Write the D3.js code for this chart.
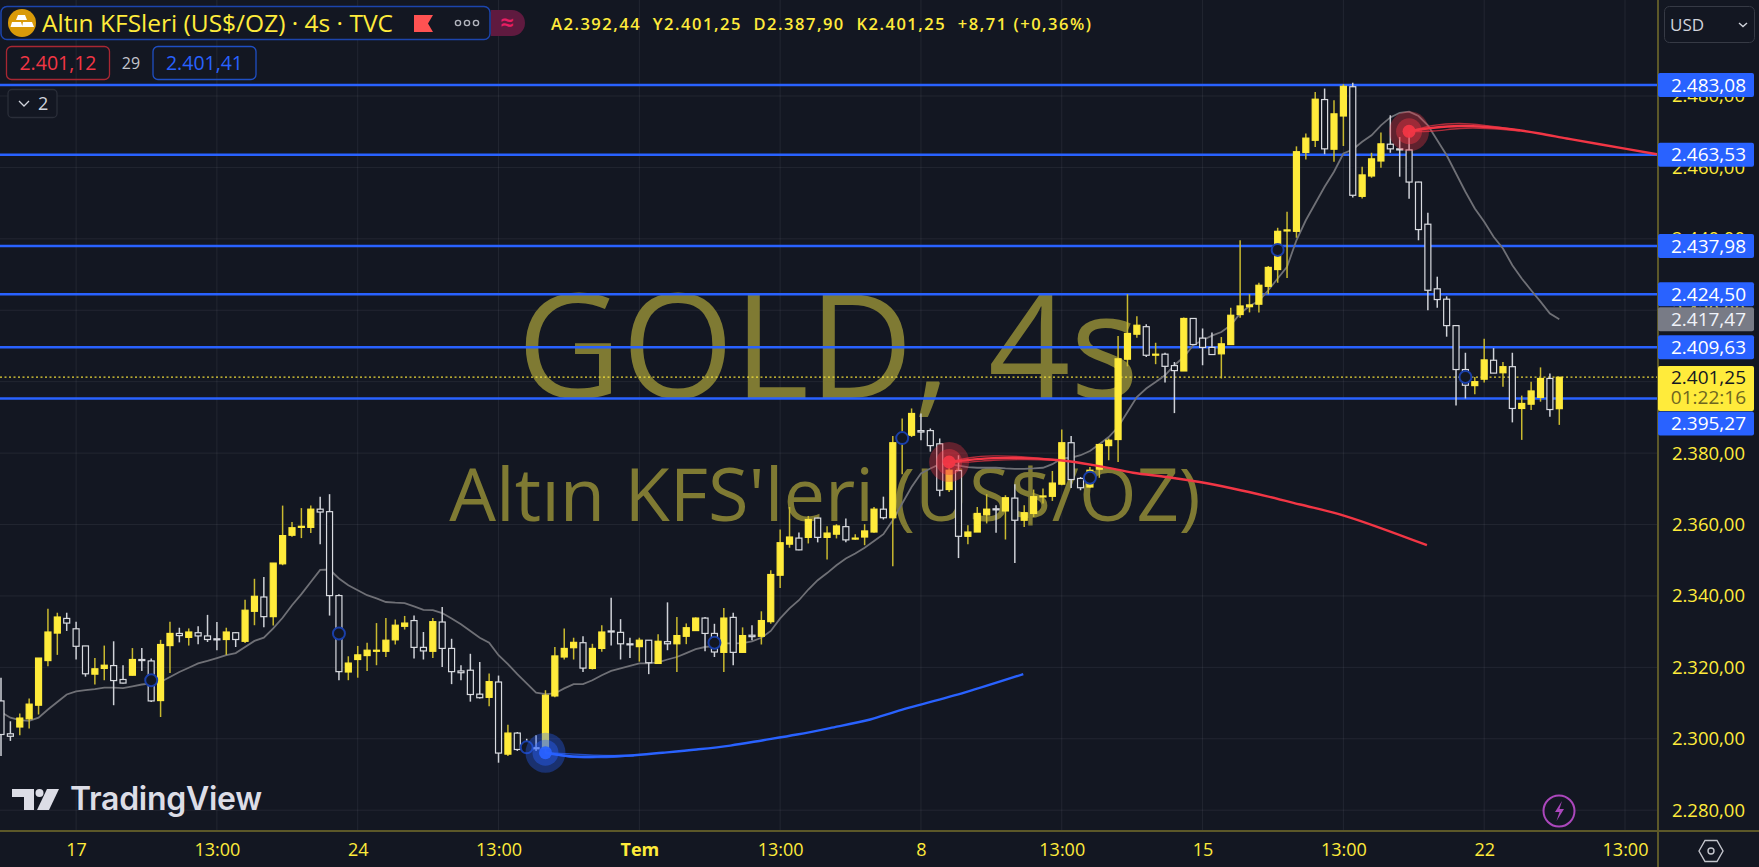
<!DOCTYPE html>
<html lang="tr">
<head>
  <meta charset="UTF-8">
  <title>Altın KFSleri (US$/OZ) · 4s · TVC</title>
  <script src="https://d3js.org/d3.v7.min.js"></script>
  <style>
    html, body { margin: 0; padding: 0; background: #131722; overflow: hidden; }
    svg { display: block; font-family: "Open Sans", sans-serif; }
    .tick line, .domain { display: none; }
  </style>
</head>
<body>
  <div id="chart-area"></div>
  <script>
    // candles, oldest first (4 hour bars)
    const opens = [
      2310.6,2301.4,2303.3,2305.6,2309.4,2321.9,2329.6,2333.7,2330.8,2326.0,
      2318.1,2319.7,2320.5,2316.6,2317.8,2322.2,2321.8,2310.7,2326.1,2329.5,
      2328.4,2329.7,2328.8,2328.0,2327.8,2329.7,2327.3,2335.7,2339.7,2334.2,
      2349.0,2357.0,2359.2,2359.2,2364.3,2363.6,2340.1,2318.7,2322.2,2323.3,
      2324.5,2324.5,2327.7,2331.5,2333.1,2325.6,2324.5,
      2332.7,2325.3,2319.0,2319.2,2312.5,2311.6,2315.9,2295.7,2301.6,2298.7,
      2297.5,2297.3,2312.0,2322.9,2325.5,2326.9,2319.7,2325.3,2330.2,2329.8,
      2326.6,2325.8,2327.6,2321.1,2327.2,2326.6,2328.7,2330.3,2333.8,2329.5,
      2324.2,2334.0,2324.2,2329.0,2328.7,2332.8,2345.8,2354.5,2356.2,2356.4,
      2361.8,2356.4,2357.3,2359.4,2356.0,2356.5,
      2357.9,2364.3,2361.9,2382.9,2385.0,2386.3,2386.3,2382.6,2369.8,2375.1,
      2356.7,2357.9,2362.7,2364.4,2363.8,2367.4,2361.2,2363.1,2367.8,2367.9,
      2371.3,2382.9,2372.9,2370.5,2375.5,2382.1,2383.8,2406.3,2413.3,2415.4,
      2407.5,2407.7,2404.5,2403.0,2417.7,2412.2,2409.6,2407.8,2410.4,
      2418.8,2421.0,2421.7,2426.7,2431.4,2442.2,2442.1,2464.2,2467.6,2479.0,
      2465.1,2474.4,2482.6,2451.9,2457.6,2461.8,2466.5,2465.2,2464.9,2455.9,
      2444.1,2426.0,2423.1,2415.7,2403.4,2398.9,2400.7,2406.0,2402.5,2404.2,
      2392.5,2393.7,2395.6,2400.9,2392.44
    ];
    const highs = [
      2317.1,2304.9,2307.1,2311.3,2322.6,2336.4,2335.3,2335.3,2332.8,2326.0,
      2322.6,2326.1,2327.3,2320.6,2325.4,2325.4,2322.5,2327.7,2332.8,2331.1,
      2330.9,2331.5,2334.7,2332.7,2331.1,2329.9,2338.9,2344.8,2345.3,2349.2,
      2365.3,2360.7,2364.6,2365.3,2367.8,2368.5,2340.5,2323.1,2326.0,2326.9,
      2332.4,2333.8,2333.4,2334.4,2334.5,2329.9,2333.8,
      2336.9,2328.0,2320.6,2323.8,2321.5,2318.3,2317.7,2303.9,2301.9,2300.0,
      2301.0,2313.6,2325.7,2330.9,2328.3,2328.7,2326.6,2331.8,2339.5,2333.5,
      2328.3,2328.3,2327.6,2329.3,2338.2,2334.1,2332.3,2334.0,2334.1,2332.2,
      2336.6,2335.3,2331.2,2331.8,2335.7,2347.2,2358.6,2364.9,2357.8,2362.4,
      2361.9,2359.5,2360.1,2361.7,2357.3,2360.1,
      2364.9,2367.8,2384.8,2389.7,2392.5,2391.1,2386.9,2384.1,2377.3,2379.4,
      2359.8,2364.9,2368.5,2365.4,2368.2,2371.3,2365.4,2369.8,2370.1,2375.0,
      2386.6,2384.8,2373.3,2376.1,2382.7,2384.1,2412.8,2424.5,2418.3,2416.1,
      2410.9,2408.1,2405.5,2418.0,2417.7,2414.9,2413.8,2412.5,2420.7,
      2439.6,2424.5,2427.7,2432.4,2443.1,2447.6,2465.9,2469.5,2481.1,2482.1,
      2478.8,2483.3,2483.7,2460.2,2464.1,2469.8,2474.6,2468.5,2469.9,2456.0,
      2447.3,2429.4,2423.9,2415.9,2408.1,2401.3,2412.0,2409.4,2405.5,2408.1,
      2396.1,2400.0,2404.0,2402.3,2401.25
    ];
    const lows = [
      2295.2,2299.4,2301.0,2302.9,2306.8,2320.3,2323.5,2330.2,2322.2,2317.4,
      2315.2,2316.4,2309.4,2315.5,2317.7,2319.0,2310.3,2306.1,2318.4,2327.0,
      2326.1,2326.5,2327.1,2324.8,2323.5,2325.7,2326.8,2331.8,2331.2,2331.7,
      2348.6,2356.6,2356.2,2357.6,2354.5,2334.5,2316.4,2316.4,2317.1,2319.0,
      2320.6,2322.9,2326.4,2330.6,2322.5,2322.2,2322.6,
      2320.1,2315.3,2316.4,2310.4,2311.3,2309.1,2293.3,2295.2,2296.6,2296.3,
      2296.6,2296.1,2311.6,2322.2,2322.2,2318.7,2319.4,2324.4,2326.1,2322.2,
      2322.6,2321.6,2318.1,2321.0,2324.8,2318.7,2326.5,2330.2,2324.5,2322.9,
      2318.7,2320.6,2324.1,2327.6,2326.4,2332.2,2342.2,2353.5,2352.8,2354.7,
      2355.0,2350.2,2356.1,2355.0,2355.7,2354.2,
      2357.7,2361.4,2348.3,2374.1,2384.5,2383.6,2380.4,2367.9,2369.1,2350.6,
      2354.5,2357.9,2360.3,2357.7,2355.8,2349.2,2359.3,2362.1,2365.9,2366.6,
      2371.0,2370.2,2369.6,2370.3,2373.1,2378.0,2377.5,2404.3,2412.3,2406.9,
      2404.9,2399.8,2391.2,2403.0,2410.4,2404.6,2407.5,2400.9,2410.4,
      2417.9,2419.4,2419.4,2424.5,2427.7,2429.0,2440.3,2462.2,2465.7,2463.7,
      2461.6,2466.0,2451.6,2451.3,2457.1,2459.9,2464.1,2457.4,2451.2,2439.6,
      2420.0,2420.7,2412.6,2393.3,2395.3,2396.5,2399.8,2402.4,2398.6,2388.6,
      2383.7,2392.1,2394.4,2390.2,2387.9
    ];
    const closes = [
      2301.2,2300.7,2305.8,2309.7,2322.6,2329.9,2334.1,2332.4,2325.9,2318.2,
      2319.6,2320.6,2316.3,2315.6,2322.2,2321.9,2310.6,2326.4,2329.5,2328.9,
      2329.9,2328.8,2327.8,2327.7,2329.9,2327.8,2336.0,2339.9,2334.2,2349.2,
      2356.9,2359.1,2359.5,2364.3,2363.5,2340.1,2318.8,2321.2,2323.5,2324.8,
      2324.8,2327.6,2331.8,2332.4,2325.6,2324.6,2332.8,
      2325.3,2318.8,2318.5,2312.4,2311.5,2316.0,2296.0,2301.6,2297.0,2296.8,
      2297.2,2312.2,2323.2,2325.3,2327.0,2319.8,2325.3,2329.9,2329.9,2326.6,
      2326.3,2327.6,2321.3,2327.3,2326.6,2328.9,2331.1,2333.8,2329.5,2324.3,
      2333.8,2324.2,2328.9,2328.6,2333.1,2346.0,2354.9,2356.5,2352.9,2361.4,
      2356.4,2357.6,2359.6,2355.7,2356.2,2358.2,
      2364.3,2361.9,2382.9,2385.5,2391.1,2385.9,2382.1,2369.6,2375.2,2356.7,
      2357.9,2363.1,2364.3,2364.1,2367.5,2361.2,2363.3,2367.8,2368.0,2371.6,
      2382.9,2372.6,2370.3,2375.2,2382.4,2383.6,2406.4,2413.5,2415.8,2407.4,
      2407.7,2404.3,2403.1,2417.7,2410.4,2409.6,2407.6,2410.6,2418.6,
      2421.2,2421.5,2427.0,2432.0,2442.1,2442.5,2464.4,2468.2,2479.1,2465.2,
      2475.0,2482.7,2452.2,2457.9,2462.4,2466.6,2465.2,2464.9,2455.9,2442.6,
      2425.6,2423.0,2415.7,2403.4,2399.0,2400.0,2406.1,2402.4,2404.2,2392.5,
      2393.9,2397.4,2400.9,2392.2,2401.25
    ];
    // grey moving average, one value per candle
    const maValues = [
      2307.5,2305.9,2305.2,2305.0,2305.9,2308.2,2310.3,2312.4,2313.3,2313.6,
      2313.9,2314.3,2314.3,2314.2,2314.7,2315.2,2315.5,2315.9,2317.3,2318.7,
      2319.9,2321.1,2321.8,2322.6,2323.4,2324.0,2325.7,2327.4,2328.3,2330.9,
      2333.9,2337.4,2340.5,2343.9,2347.3,2347.4,2344.9,2343.0,2341.6,2340.2,
      2339.3,2338.3,2338.1,2338.0,2337.1,2336.1,2336.0,
      2335.2,2333.7,2332.1,2330.2,2328.3,2326.9,2323.4,2320.9,2318.1,2315.5,
      2312.9,2312.5,2312.7,2314.1,2315.3,2315.3,2316.4,2317.8,2319.0,2319.7,
      2320.4,2321.1,2321.1,2321.4,2322.2,2322.9,2324.0,2325.1,2325.7,2326.0,
      2326.7,2326.7,2326.8,2327.3,2328.3,2330.2,2333.7,2336.5,2338.8,2341.8,
      2344.4,2346.4,2348.6,2350.5,2351.9,2353.5,
      2355.4,2357.3,2361.2,2365.9,2370.5,2374.3,2375.7,2376.9,2376.9,2376.5,
      2376.1,2375.9,2375.9,2375.9,2375.7,2375.6,2375.6,2375.7,2375.9,2376.9,
      2378.5,2378.7,2379.4,2380.6,2382.5,2384.5,2387.3,2391.5,2395.7,2398.1,
      2399.9,2401.8,2404.6,2406.9,2410.2,2411.6,2412.9,2413.9,2415.8,
      2419.1,2421.2,2422.6,2425.6,2428.9,2432.2,2439.6,2445.2,2449.9,2454.6,
      2458.8,2463.9,2465.0,2467.2,2469.0,2471.8,2474.0,2475.3,2475.6,2474.4,
      2471.8,2467.6,2463.4,2458.3,2453.2,2448.5,2444.8,2440.6,2437.3,2432.6,
      2428.9,2425.6,2422.4,2419.1,2417.47
    ];

    // curved arcs: candle position and price
    const blueArcIdx = [58,60.6,63.5,67,70.5,74.1,77.7,81.2,84.8,88.3,92.6,95.4,102.7,108.9];
    const blueArcPrice = [2296.1,2295.1,2295.0,2295.3,2296.1,2297.0,2298.1,2299.6,2301.2,2303.0,2305.4,2307.7,2313.0,2318.1];
    const blueFanIdx = [58,60.6,63.5,67.4];
    const blueFanUpper = [2296.1,2295.8,2295.4,2295.3];
    const blueFanLower = [2296.1,2294.9,2294.7,2295.2];

    const redArcIdx = [101.1,105.7,112.8,117.1,120.6,124.2,127.7,131.2,134.9,138.4,143.3,151.9];
    const redArcPrice = [2377.5,2378.6,2378.0,2376.3,2374.5,2373.3,2371.9,2370.1,2367.9,2365.6,2362.3,2354.2];
    const redFanIdx = [101.1,103.2,105.7,109.3,112.8];
    const redFanUpper = [2377.5,2378.7,2379.2,2378.9,2378.0];
    const redFanLower = [2377.5,2377.5,2378.0,2378.2,2378.0];

    const red2ArcIdx = [150,152.6,155.4,158.3,161.1,163.9,166.8,170.3,176.4];
    const red2ArcPrice = [2470.1,2471.1,2471.6,2471.3,2470.6,2469.5,2468.1,2466.5,2463.7];
    const red2FanIdx = [150,152.6,155.4,158.3,161.8];
    const red2FanUpper = [2470.1,2471.8,2472.3,2471.7,2470.4];
    const red2FanLower = [2470.0,2470.2,2470.9,2470.9,2470.2];

    // small blue markers, every 20 candles
    const markerIdx = [16,36,56,76,96,116,136,156];
    const markerPrice = [2316.4,2329.5,2297.6,2326.9,2384.2,2373.1,2436.9,2401.3];

    // glowing dots at the start of the arcs
    const glowIdx = [58,101,150];
    const glowPrice = [2296.1,2377.5,2470.1];
    const glowKind = ["blue","red","red"];

    // horizontal levels
    const levelPrices = [2483.08,2463.53,2437.98,2424.50,2409.63,2395.27];
    const lastPrice = 2401.25;
    const maPrice = 2417.47;

    // axes
    const priceTicks = [2280,2300,2320,2340,2360,2380,2400,2420,2440,2460,2480];
    const timeTickIdx = [8,23,38,53,68,83,98,113,128,143,158,173];
    const timeTickLabels = ["17","13:00","24","13:00","Tem","13:00","8","13:00","15","13:00","22","13:00"];

    const width = 1759, height = 867;
    const plotRight = 1658, plotBottom = 830;
    const bg = "#131722";
    const yellow = "#ffeb3b";
    const blue = "#2962ff";
    const axisLine = "#5c5829";

    const trLocale = d3.formatLocale({ decimal: ",", thousands: ".", grouping: [3], currency: ["", ""] });
    const fmt = trLocale.format(",.2f");

    const x = d3.scaleLinear().domain([0, 173]).range([1, 1625]);
    const y = d3.scaleLinear().domain([2280, 2483.08]).range([810.2, 85]);

    const svg = d3.select("#chart-area").append("svg")
      .attr("width", width).attr("height", height);

    svg.append("defs").append("clipPath").attr("id", "plot-clip")
      .append("rect").attr("width", plotRight).attr("height", plotBottom);

    // grid
    const grid = svg.append("g").attr("stroke", "#f0f3fa").attr("stroke-opacity", 0.07);
    grid.selectAll("line.h").data(priceTicks).enter().append("line")
      .attr("x1", 0).attr("x2", plotRight).attr("y1", d => y(d)).attr("y2", d => y(d));
    grid.selectAll("line.v").data(timeTickIdx).enter().append("line")
      .attr("y1", 0).attr("y2", plotBottom).attr("x1", d => x(d)).attr("x2", d => x(d));

    // watermark
    const mark = svg.append("g").attr("fill", "#7f7a33").attr("text-anchor", "middle").attr("font-weight", 500);
    mark.append("text").attr("x", 828).attr("y", 398).attr("font-size", 144).text("GOLD, 4s");
    mark.append("text").attr("x", 825).attr("y", 521).attr("font-size", 74).text("Altın KFS'leri (US$/OZ)");

    const plot = svg.append("g").attr("clip-path", "url(#plot-clip)");

    // levels
    plot.selectAll("line.level").data(levelPrices).enter().append("line")
      .attr("x1", 0).attr("x2", plotRight)
      .attr("y1", d => y(d)).attr("y2", d => y(d))
      .attr("stroke", blue).attr("stroke-width", 2.4);
    plot.append("line").attr("x1", 0).attr("x2", plotRight)
      .attr("y1", y(lastPrice)).attr("y2", y(lastPrice))
      .attr("stroke", yellow).attr("stroke-opacity", 0.9).attr("stroke-width", 1.3).attr("stroke-dasharray", "2 2.5");

    // moving average
    const maLine = d3.line().x((d, i) => x(i)).y(d => y(d));
    plot.append("path").datum(maValues).attr("d", maLine)
      .attr("fill", "none").attr("stroke", "#6f7076").attr("stroke-width", 1.8);

    // candles
    const bodyW = 6;
    const candles = plot.selectAll("g.candle").data(opens.map((o, i) => i)).enter().append("g");
    candles.append("line")
      .attr("x1", i => x(i)).attr("x2", i => x(i))
      .attr("y1", i => y(highs[i])).attr("y2", i => y(lows[i]))
      .attr("stroke", i => closes[i] >= opens[i] ? "#c9b92f" : "#cfd2d8")
      .attr("stroke-width", 1.5);
    candles.append("rect")
      .attr("x", i => x(i) - bodyW / 2)
      .attr("width", bodyW)
      .attr("y", i => y(Math.max(opens[i], closes[i])))
      .attr("height", i => Math.max(1, Math.abs(y(opens[i]) - y(closes[i]))))
      .attr("fill", i => closes[i] >= opens[i] ? yellow : bg)
      .attr("stroke", i => closes[i] >= opens[i] ? yellow : "#d9dbe0")
      .attr("stroke-width", 1.2);

    // markers
    plot.selectAll("circle.marker").data(markerIdx).enter().append("circle")
      .attr("cx", d => x(d)).attr("cy", (d, i) => y(markerPrice[i])).attr("r", 6)
      .attr("fill", bg).attr("stroke", "#1a3fa8").attr("stroke-width", 2);

    // arcs
    function drawArc(idx, prices, color, width, opacity) {
      const line = d3.line().x((d, i) => x(idx[i])).y(d => y(d)).curve(d3.curveCatmullRom.alpha(0.5));
      plot.append("path").datum(prices).attr("d", line)
        .attr("fill", "none").attr("stroke", color)
        .attr("stroke-width", width).attr("stroke-opacity", opacity);
    }
    drawArc(blueFanIdx, blueFanUpper, blue, 1.3, 0.7);
    drawArc(blueFanIdx, blueFanLower, blue, 1.3, 0.7);
    drawArc(blueArcIdx, blueArcPrice, blue, 2.4, 1);
    drawArc(redFanIdx, redFanUpper, "#f23645", 1.3, 0.7);
    drawArc(redFanIdx, redFanLower, "#f23645", 1.3, 0.7);
    drawArc(redArcIdx, redArcPrice, "#f23645", 2.4, 1);
    drawArc(red2FanIdx, red2FanUpper, "#f23645", 1.3, 0.7);
    drawArc(red2FanIdx, red2FanLower, "#f23645", 1.3, 0.7);
    drawArc(red2ArcIdx, red2ArcPrice, "#f23645", 2.4, 1);

    // glow dots
    glowIdx.forEach((g, i) => {
      const c = glowKind[i] === "blue" ? blue : "#f23645";
      [[20, 0.35], [13, 0.42], [6.5, 0.95]].forEach(r => {
        plot.append("circle").attr("cx", x(g)).attr("cy", y(glowPrice[i]))
          .attr("r", r[0]).attr("fill", c).attr("fill-opacity", r[1]);
      });
    });

    // axis lines
    svg.append("line").attr("x1", plotRight).attr("x2", plotRight).attr("y1", 0).attr("y2", height)
      .attr("stroke", axisLine).attr("stroke-width", 2);
    svg.append("line").attr("x1", 0).attr("x2", width).attr("y1", plotBottom + 1).attr("y2", plotBottom + 1)
      .attr("stroke", axisLine).attr("stroke-width", 2);

    // price axis
    const yAxis = svg.append("g").attr("transform", `translate(${plotRight},0)`)
      .call(d3.axisRight(y).tickValues(priceTicks).tickSize(0).tickFormat(fmt));
    yAxis.selectAll("text").attr("x", 87).attr("text-anchor", "end")
      .attr("fill", yellow).attr("font-size", 18.5).attr("font-family", "Open Sans").attr("font-weight", 500);

    // time axis
    const xAxis = svg.append("g").attr("transform", `translate(0,${plotBottom})`)
      .call(d3.axisBottom(x).tickValues(timeTickIdx).tickSize(0).tickFormat((d, i) => timeTickLabels[i]));
    xAxis.selectAll("text").attr("y", 13)
      .attr("fill", yellow).attr("font-size", 18).attr("font-family", "Open Sans")
      .attr("font-weight", d => d === 68 ? 700 : 500);

    // price labels on the right
    const labels = svg.append("g").attr("font-size", 19).attr("font-weight", 500).attr("text-anchor", "end");
    function priceBox(cy, h, color) {
      labels.append("rect").attr("x", plotRight).attr("y", cy - h / 2)
        .attr("width", 96).attr("height", h).attr("rx", 2).attr("fill", color);
    }
    levelPrices.forEach(p => {
      const cy = p === 2395.27 ? 423.5 : y(p);
      priceBox(cy, 24, blue);
      labels.append("text").attr("x", 1746).attr("y", cy + 6.5).attr("fill", "#ffffff").text(fmt(p));
    });
    priceBox(y(maPrice), 24, "#787b86");
    labels.append("text").attr("x", 1746).attr("y", y(maPrice) + 6.5).attr("fill", "#f0f3fa").text(fmt(maPrice));
    priceBox(388.5, 45, yellow);
    labels.append("text").attr("x", 1746).attr("y", 384).attr("fill", "#131722").text(fmt(lastPrice));
    labels.append("text").attr("x", 1746).attr("y", 404).attr("fill", "#6e6620").text("01:22:16");

    // USD box
    svg.append("rect").attr("x", 1664.5).attr("y", 6.5).attr("width", 90).attr("height", 36).attr("rx", 5)
      .attr("fill", "none").attr("stroke", "#363a45");
    svg.append("text").attr("x", 1670).attr("y", 31).attr("font-size", 17).attr("font-weight", 500).attr("fill", "#d1d4dc").text("USD");
    svg.append("path").attr("d", "M1739 23l4 3.5l4 -3.5").attr("fill", "none").attr("stroke", "#d1d4dc").attr("stroke-width", 1.4);

    // header
    const head = svg.append("g");
    head.append("rect").attr("x", 1).attr("y", 6.5).attr("width", 489).attr("height", 33).attr("rx", 6)
      .attr("fill", bg).attr("stroke", "#1c45ad").attr("stroke-width", 1.5);
    head.append("circle").attr("cx", 22).attr("cy", 23).attr("r", 14).attr("fill", "#d99a09");
    head.append("path").attr("d", "M18 15h7l2 5h-11zM12 22h9l1.5 5h-12zM23 22h9l2 5h-12z").attr("fill", "#fff");
    head.append("text").attr("x", 42).attr("y", 32).attr("font-size", 24.5).attr("font-weight", 500)
      .attr("fill", yellow).text("Altın KFSleri (US$/OZ) · 4s · TVC");
    head.append("path").attr("d", "M414 15h19l-5 8.5l5 8.5h-19z").attr("fill", "#ff5252");
    head.selectAll("circle.dot").data([458, 467, 476]).enter().append("circle")
      .attr("cx", d => d).attr("cy", 23).attr("r", 2.6)
      .attr("fill", "none").attr("stroke", "#b2b5be").attr("stroke-width", 1.4);
    head.append("path").attr("d", "M491 10h21a13 13 0 0 1 0 26h-21z").attr("fill", "#5f1a3f");
    head.append("text").attr("x", 507).attr("y", 31).attr("text-anchor", "middle").attr("font-size", 24).attr("font-weight", 600)
      .attr("fill", "#e91e63").text("≈");
    head.append("text").attr("x", 551).attr("y", 30).attr("font-size", 16.5).attr("font-weight", 600)
      .attr("xml:space", "preserve").style("white-space", "pre").attr("textLength", 540)
      .attr("fill", yellow).text("A2.392,44  Y2.401,25  D2.387,90  K2.401,25  +8,71 (+0,36%)");

    head.append("rect").attr("x", 6.5).attr("y", 46.5).attr("width", 103).attr("height", 33).attr("rx", 5)
      .attr("fill", "none").attr("stroke", "#a82733").attr("stroke-width", 1.3);
    head.append("text").attr("x", 58).attr("y", 70).attr("text-anchor", "middle").attr("font-size", 19.5)
      .attr("font-weight", 500).attr("fill", "#f23645").text("2.401,12");
    head.append("text").attr("x", 131).attr("y", 69).attr("text-anchor", "middle").attr("font-size", 16)
      .attr("font-weight", 500).attr("fill", "#c3c5cc").text("29");
    head.append("rect").attr("x", 153).attr("y", 46.5).attr("width", 103).attr("height", 33).attr("rx", 5)
      .attr("fill", "none").attr("stroke", "#1f4fc4").attr("stroke-width", 1.3);
    head.append("text").attr("x", 204.5).attr("y", 70).attr("text-anchor", "middle").attr("font-size", 19.5)
      .attr("font-weight", 500).attr("fill", blue).text("2.401,41");

    head.append("rect").attr("x", 8).attr("y", 89.5).attr("width", 49).attr("height", 28).attr("rx", 4)
      .attr("fill", bg).attr("stroke", "#2a2e39").attr("stroke-width", 1.3);
    head.append("path").attr("d", "M19 101l5 5l5 -5").attr("fill", "none").attr("stroke", "#d1d4dc").attr("stroke-width", 1.3);
    head.append("text").attr("x", 38).attr("y", 110).attr("font-size", 18).attr("font-weight", 500).attr("fill", "#d1d4dc").text("2");

    // TradingView logo
    const logo = svg.append("g").attr("fill", "#dcdde6");
    logo.append("path").attr("d", "M12 789h22v21h-10v-13h-12z");
    logo.append("circle").attr("cx", 39.5).attr("cy", 793).attr("r", 4);
    logo.append("path").attr("d", "M47 789h12l-10 21h-12z");
    logo.append("text").attr("x", 70).attr("y", 810).attr("font-family", "Inter").attr("font-size", 32)
      .attr("font-weight", 600).attr("letter-spacing", -0.3).text("TradingView");

    // lightning badge
    svg.append("circle").attr("cx", 1559).attr("cy", 811).attr("r", 15.5)
      .attr("fill", bg).attr("stroke", "#ab47bc").attr("stroke-width", 2);
    svg.append("path").attr("d", "M1562 801l-7 11h4.5l-3 9l7.5 -12h-4.5z").attr("fill", "#ab47bc");

    // settings icon
    svg.append("path").attr("d", "M1699 851l6 -10.5h12l6 10.5l-6 10.5h-12z")
      .attr("fill", "none").attr("stroke", "#c3c5cc").attr("stroke-width", 1.4);
    svg.append("circle").attr("cx", 1711).attr("cy", 851).attr("r", 3)
      .attr("fill", "none").attr("stroke", "#c3c5cc").attr("stroke-width", 1.4);
  </script>
</body>
</html>
